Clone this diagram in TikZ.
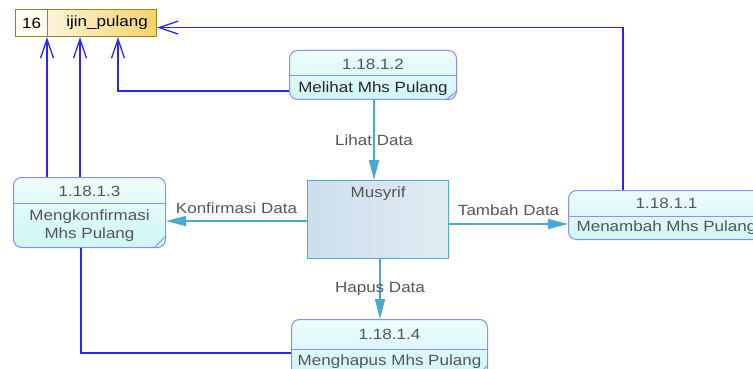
\documentclass[tikz,border=0pt]{standalone}
\usepackage{fontspec}
\setmainfont{Liberation Sans}[FakeStretch=1.15]
\usetikzlibrary{arrows.meta,calc}
\definecolor{pborder}{RGB}{140,140,250}
\definecolor{ptop}{RGB}{238,253,253}
\definecolor{pbot}{RGB}{206,246,246}
\definecolor{dsborder}{RGB}{140,140,30}
\definecolor{dscell}{RGB}{255,252,240}
\definecolor{dsleft}{RGB}{253,244,218}
\definecolor{dsright}{RGB}{246,210,105}
\definecolor{entborder}{RGB}{80,170,210}
\definecolor{entleft}{RGB}{204,222,238}
\definecolor{entright}{RGB}{226,236,242}
\definecolor{flow}{RGB}{75,168,208}
\definecolor{dsflow}{RGB}{40,40,245}
\definecolor{txt}{RGB}{85,85,85}
\begin{document}
\begin{tikzpicture}[x=1pt,y=-1pt,
  every node/.style={font=\fontsize{14.8pt}{18pt}\selectfont},
  proc/.style={draw=pborder, line width=1pt, rounded corners=8pt, top color=ptop, bottom color=pbot, inner sep=0pt, anchor=north west},
  pline/.style={draw=pborder, line width=1pt},
  txtnode/.style={text=txt, inner sep=0pt},
  dsbox/.style={draw=dsborder, line width=1.2pt, inner sep=0pt, anchor=north west},
  entbox/.style={draw=entborder, line width=1.2pt, left color=entleft, right color=entright, inner sep=0pt, anchor=north west},
  flowline/.style={draw=flow, line width=1.5pt, -{Triangle[length=20pt,width=10pt]}},
  dsline/.style={draw=dsflow, line width=1.3pt, -{Straight Barb[length=19pt,width=13pt,line width=1.3pt]}},
  plainline/.style={draw=dsflow, line width=1.3pt},
  lbl/.style={text=txt, inner sep=0pt}
]
\useasboundingbox (0,0) rectangle (753,369);

% data store
\node[dsbox, fill=dscell, minimum width=32pt, minimum height=27pt] (dsn) at (15,9) {};
\node[dsbox, left color=dsleft, right color=dsright, minimum width=109pt, minimum height=27pt] (ds) at (47,9) {};
\node[inner sep=0pt, text=black] (dsnum) at (dsn.center) {16};
\node[inner sep=0pt, text=black] (dsname) at ($(ds.center)+(5,0)$) {ijin\_pulang};
\coordinate (dsw) at (dsn.south west);

% process 1.18.1.2
\node[proc, minimum width=167pt, minimum height=49pt] (p2) at (289,50) {};
\draw[pline] ($(p2.north west)+(0,26)$) -- ($(p2.north east)+(0,26)$);
\draw[pline] ($(p2.south east)+(-11,0)$) -- ($(p2.south east)+(0,-9)$);
\node[txtnode] (p2id) at ($(p2.north)+(0,14)$) {1.18.1.2};
\node[inner sep=0pt, text=black!85] (p2name) at ($(p2.north)+(0,39)$) {Melihat Mhs Pulang};

% process 1.18.1.3
\node[proc, minimum width=152pt, minimum height=70pt] (p3) at (13,177) {};
\draw[pline] ($(p3.north west)+(0,26)$) -- ($(p3.north east)+(0,26)$);
\draw[pline] ($(p3.south east)+(-12,0)$) -- ($(p3.south east)+(0,-12)$);
\node[txtnode] (p3id) at ($(p3.north)+(0,14)$) {1.18.1.3};
\node[txtnode, align=center, font=\fontsize{14.8pt}{18pt}\selectfont] (p3name) at ($(p3.north)+(0,49)$) {Mengkonfirmasi\\Mhs Pulang};

% process 1.18.1.1
\node[proc, minimum width=196pt, minimum height=49pt] (p1) at (568,190) {};
\draw[pline] ($(p1.north west)+(0,26)$) -- ($(p1.north east)+(0,26)$);
\node[txtnode] (p1id) at ($(p1.north)+(0,13)$) {1.18.1.1};
\node[txtnode] (p1name) at ($(p1.north)+(0,38)$) {Menambah Mhs Pulang};

% process 1.18.1.4
\node[proc, minimum width=196pt, minimum height=58pt] (p4) at (291,319) {};
\draw[pline] ($(p4.north west)+(0,30)$) -- ($(p4.north east)+(0,30)$);
\draw[pline] ($(p4.north east)+(-12,58)$) -- ($(p4.north east)+(0,46)$);
\node[txtnode] (p4id) at ($(p4.north)+(0,15)$) {1.18.1.4};
\node[txtnode] (p4name) at ($(p4.north)+(0,43)$) {Menghapus Mhs Pulang};

% external entity
\node[entbox, minimum width=141pt, minimum height=78pt] (ent) at (307,180) {};
\node[txtnode] (entname) at ($(ent.north)+(0,14)$) {Musyrif};

% flows to data store
\draw[dsline] ($(p2.south west)+(0,-9)$) -| ($(dsw)+(103,0)$);
\draw[dsline] ($(p3.north west)+(34,0)$) -- ($(dsw)+(32,0)$);
\draw[dsline] ($(p3.north west)+(67,0)$) -- ($(dsw)+(65,0)$);
\draw[dsline] ($(p1.north west)+(55,0)$) |- ($(ds.east)+(0,4.5)$);
\draw[plainline] ($(p3.south west)+(68,0)$) |- ($(p4.north west)+(0,34)$);

% flows with entity
\draw[flowline] ($(p2.south west)+(85,0)$) -- ($(ent.north west)+(67,0)$) node[lbl, pos=0.5] (l1) {Lihat Data};
\draw[flowline] ($(ent.north west)+(0,41)$) -- ($(p3.north east)+(0,44)$) node[lbl, pos=0.5, yshift=13pt] (l2) {Konfirmasi Data};
\draw[flowline] ($(ent.north east)+(0,44)$) -- ($(p1.north west)+(0,34)$) node[lbl, pos=0.5, yshift=14pt] (l3) {Tambah Data};
\draw[flowline] ($(ent.south west)+(73,0)$) -- ($(p4.north west)+(89,0)$) node[lbl, pos=0.5] (l4) {Hapus Data};
\end{tikzpicture}
\end{document}
